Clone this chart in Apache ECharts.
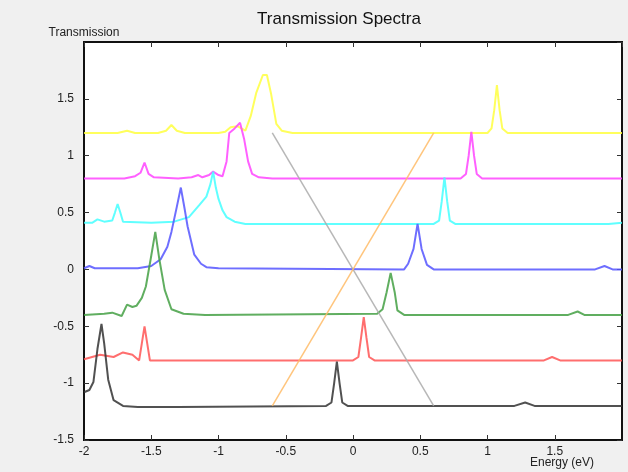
<!DOCTYPE html>
<html>
<head>
<meta charset="utf-8">
<script src="https://cdn.jsdelivr.net/npm/echarts@6/dist/echarts.min.js"></script>
<style>
  html, body { margin: 0; padding: 0; background: #f0f0f0; }
  #chart { width: 628px; height: 472px; }
</style>
</head>
<body>
<div id="chart"></div>
<script>
// energy (eV) / transmission pairs, each curve offset by 0.4
const yellowPts = [[-2,1.2],[-1.75,1.2],[-1.68,1.22],[-1.62,1.2],[-1.45,1.2],[-1.39,1.22],[-1.35,1.27],[-1.31,1.22],[-1.25,1.2],[-1.0,1.2],[-0.95,1.21],[-0.91,1.25],[-0.86,1.26],[-0.8,1.22],[-0.76,1.35],[-0.72,1.55],[-0.67,1.71],[-0.64,1.71],[-0.61,1.55],[-0.57,1.28],[-0.53,1.22],[-0.45,1.2],[1.0,1.2],[1.03,1.24],[1.05,1.4],[1.07,1.62],[1.09,1.4],[1.11,1.24],[1.15,1.2],[2,1.2]];
const magentaPts = [[-2,0.8],[-1.7,0.8],[-1.62,0.82],[-1.58,0.85],[-1.55,0.94],[-1.52,0.84],[-1.48,0.81],[-1.3,0.8],[-1.2,0.81],[-1.15,0.83],[-1.12,0.81],[-1.07,0.83],[-1.04,0.86],[-1.0,0.83],[-0.97,0.82],[-0.94,0.95],[-0.92,1.2],[-0.88,1.24],[-0.84,1.29],[-0.81,1.15],[-0.78,0.95],[-0.75,0.84],[-0.7,0.81],[-0.6,0.8],[0.8,0.8],[0.84,0.84],[0.86,1.0],[0.88,1.21],[0.9,1.0],[0.92,0.84],[0.96,0.8],[2,0.8]];
const cyanPts = [[-2,0.41],[-1.94,0.41],[-1.9,0.44],[-1.85,0.42],[-1.79,0.43],[-1.77,0.5],[-1.75,0.575],[-1.73,0.5],[-1.71,0.42],[-1.5,0.41],[-1.33,0.42],[-1.22,0.46],[-1.14,0.57],[-1.09,0.64],[-1.06,0.75],[-1.04,0.86],[-1.02,0.72],[-1.0,0.62],[-0.97,0.52],[-0.94,0.46],[-0.88,0.42],[-0.8,0.4],[0.6,0.4],[0.64,0.43],[0.66,0.6],[0.68,0.81],[0.7,0.6],[0.72,0.43],[0.76,0.4],[1.9,0.4],[2,0.41]];
const bluePts = [[-2,0.01],[-1.96,0.03],[-1.92,0.01],[-1.6,0.01],[-1.5,0.03],[-1.43,0.09],[-1.38,0.2],[-1.35,0.33],[-1.31,0.55],[-1.28,0.72],[-1.25,0.52],[-1.23,0.38],[-1.18,0.13],[-1.13,0.05],[-1.09,0.02],[-1.0,0.01],[0.38,0],[0.41,0.05],[0.45,0.18],[0.48,0.4],[0.51,0.18],[0.55,0.04],[0.6,0],[1.8,0],[1.87,0.03],[1.93,0],[2,0]];
const greenPts = [[-2,-0.4],[-1.85,-0.39],[-1.79,-0.38],[-1.72,-0.41],[-1.68,-0.31],[-1.64,-0.33],[-1.61,-0.32],[-1.57,-0.25],[-1.54,-0.15],[-1.5,0.12],[-1.47,0.33],[-1.44,0.09],[-1.4,-0.18],[-1.35,-0.35],[-1.26,-0.39],[-1.1,-0.4],[0.18,-0.39],[0.22,-0.35],[0.25,-0.2],[0.28,-0.03],[0.31,-0.2],[0.33,-0.36],[0.38,-0.4],[1.6,-0.4],[1.67,-0.37],[1.72,-0.4],[2,-0.4]];
const redPts = [[-2,-0.79],[-1.88,-0.75],[-1.78,-0.77],[-1.71,-0.73],[-1.64,-0.75],[-1.59,-0.8],[-1.57,-0.65],[-1.55,-0.5],[-1.53,-0.65],[-1.51,-0.8],[-1.3,-0.8],[0.0,-0.8],[0.04,-0.77],[0.06,-0.6],[0.08,-0.42],[0.1,-0.6],[0.12,-0.77],[0.16,-0.8],[1.42,-0.8],[1.48,-0.77],[1.54,-0.8],[2,-0.8]];
const blackPts = [[-2,-1.08],[-1.96,-1.06],[-1.93,-0.99],[-1.9,-0.7],[-1.87,-0.48],[-1.85,-0.65],[-1.82,-0.97],[-1.78,-1.15],[-1.71,-1.2],[-1.6,-1.21],[-1.3,-1.21],[-0.2,-1.2],[-0.16,-1.17],[-0.14,-1.0],[-0.12,-0.81],[-0.1,-1.0],[-0.08,-1.17],[-0.04,-1.2],[1.2,-1.2],[1.28,-1.17],[1.35,-1.2],[2,-1.2]];
const grayGuide = [[-0.6,1.2],[0.6,-1.2]];
const orangeGuide = [[-0.6,-1.2],[0.6,1.2]];

const curves = [
  { data: yellowPts, color: "#ffff40" },
  { data: magentaPts, color: "#ff44ff" },
  { data: cyanPts, color: "#44ffff" },
  { data: bluePts, color: "#5555ff" },
  { data: greenPts, color: "#44a044" },
  { data: redPts, color: "#ff5555" },
  { data: blackPts, color: "#333333" },
  { data: grayGuide, color: "#aaaaaa", width: 1.5 },
  { data: orangeGuide, color: "#ffbb66", width: 1.5 },
];

const chart = echarts.init(document.getElementById("chart"));

const labelFont = { fontFamily: "Liberation Sans, Arial, sans-serif", fontSize: 12, color: "#222" };
const frameLine = { show: true, onZero: false, lineStyle: { color: "#111", width: 2 } };
const innerTick = { inside: true, length: 5, lineStyle: { color: "#333" } };

chart.setOption({
  backgroundColor: "#f0f0f0",
  animation: false,
  title: {
    text: "Transmission Spectra",
    left: 334,
    top: 6,
    textAlign: "center",
    textStyle: { fontFamily: "Liberation Sans, Arial, sans-serif", fontSize: 17, fontWeight: 500, color: "#111" },
  },
  grid: {
    left: 84, right: 6, top: 42, bottom: 32,
    outerBoundsMode: "none",
    show: true, backgroundColor: "#fff", borderColor: "#111", borderWidth: 2,
  },
  xAxis: [
    {
      type: "value", min: -2, max: 2, interval: 0.5,
      name: "Energy (eV)", nameLocation: "end", nameGap: -92,
      nameMoveOverlap: false,
      nameTextStyle: { ...labelFont, verticalAlign: "top", padding: [17, 0, 0, 0] },
      axisLine: frameLine,
      axisTick: innerTick,
      axisLabel: { ...labelFont, margin: 6, showMaxLabel: false },
      splitLine: { show: false },
    },
    {
      type: "value", position: "top", min: -2, max: 2, interval: 0.5,
      axisLine: frameLine,
      axisTick: innerTick,
      axisLabel: { show: false },
      splitLine: { show: false },
    },
  ],
  yAxis: [
    {
      type: "value", min: -1.5, max: 2, interval: 0.5,
      name: "Transmission", nameLocation: "end", nameGap: 3,
      nameTextStyle: { ...labelFont, align: "center" },
      axisLine: frameLine,
      axisTick: innerTick,
      axisLabel: { ...labelFont, margin: 10, showMaxLabel: false },
      splitLine: { show: false },
    },
    {
      type: "value", position: "right", min: -1.5, max: 2, interval: 0.5,
      axisLine: frameLine,
      axisTick: innerTick,
      axisLabel: { show: false },
      splitLine: { show: false },
    },
  ],
  series: curves.map((c) => ({
    type: "line",
    data: c.data,
    showSymbol: false,
    silent: true,
    lineStyle: { color: c.color, width: c.width || 2, opacity: 0.85 },
  })),
});
</script>
</body>
</html>
